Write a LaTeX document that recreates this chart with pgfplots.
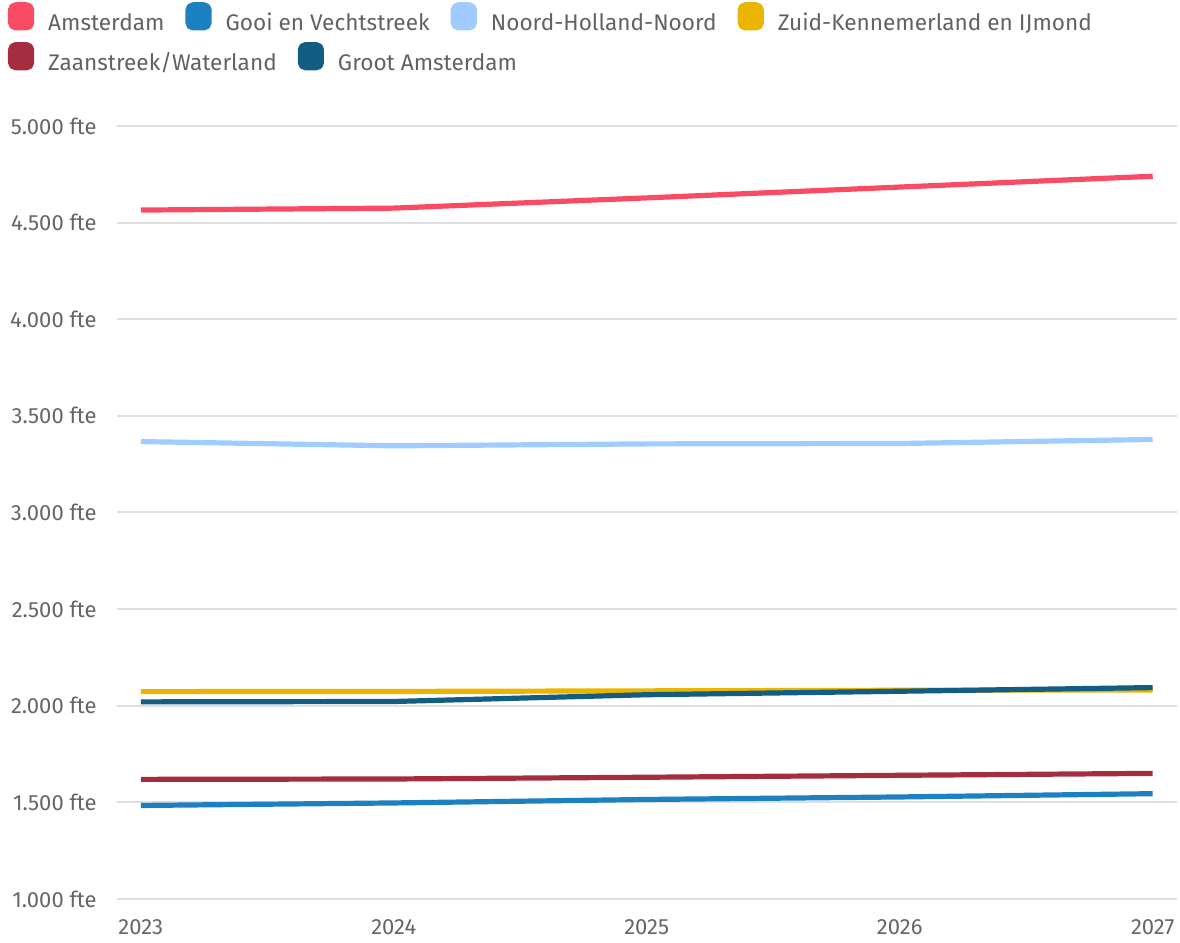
\documentclass[border=0pt]{standalone}
\usepackage{fontspec}
\IfFontExistsTF{FiraSans-Light.otf}{\setmainfont{FiraSans-Light.otf}}{\setmainfont{Fira Sans}}
\usepackage{pgfplots}
\pgfplotsset{compat=1.18}
\definecolor{cAms}{HTML}{FA4B64}
\definecolor{cGooi}{HTML}{1D80C0}
\definecolor{cNHN}{HTML}{9FCDFF}
\definecolor{cZK}{HTML}{EBB400}
\definecolor{cZaan}{HTML}{A52D40}
\definecolor{cGroot}{HTML}{135C82}
\definecolor{gridc}{HTML}{E0E0E0}
\definecolor{tickc}{HTML}{666666}
\definecolor{legtext}{HTML}{626262}
\pgfplotsset{
  base/.style={width=530bp,height=386.5bp,scale only axis,
    xmin=2022.906,xmax=2027.096,ymin=1000,ymax=5000,clip=false,
    every axis plot/.append style={line width=2.6bp,line cap=butt,line join=round,no markers}},
  leg/.style={legend columns=-1,
    legend style={draw=none,fill=none,inner sep=0pt,outer sep=0pt,column sep=0pt,row sep=0pt,
      font=\fontsize{11.3bp}{13bp}\selectfont,text=legtext,nodes={inner sep=0pt},
      /tikz/every even column/.append style={column sep=10.5bp}},
    legend image code/.code={\fill[##1,rounded corners=2.5bp] (0bp,-2.2bp) rectangle (10.5bp,9.3bp); \path (17.5bp,0bp);}},
}
\begin{document}
\begin{tikzpicture}
\useasboundingbox (-58.5bp,-22bp) rectangle (531.5bp,449.5bp);
\begin{axis}[base,leg,
  axis line style={draw=none},major tick length=0pt,
  ymajorgrids,grid style={color=gridc,line width=1bp},
  ytick={1000,1500,2000,2500,3000,3500,4000,4500,5000},
  yticklabels={1.000 fte,1.500 fte,2.000 fte,2.500 fte,3.000 fte,3.500 fte,4.000 fte,4.500 fte,5.000 fte},
  xtick={2023,2024,2025,2026,2027},
  xticklabels={2023,2024,2025,2026,2027},
  tick label style={font=\fontsize{11bp}{13bp}\selectfont,text=tickc,inner sep=0pt},
  yticklabel shift=10bp,xticklabel shift=10bp,
  legend style={at={([xshift=-54.5bp,yshift=54bp]axis description cs:0,1)},anchor=west}]
\addplot[color=cAms] coordinates {(2023,4565) (2024,4575) (2025,4628) (2026,4684) (2027,4740)};
\addlegendentry{Amsterdam}
\addplot[color=cGooi] coordinates {(2023,1484) (2024,1497) (2025,1515) (2026,1528) (2027,1545)};
\addlegendentry{Gooi en Vechtstreek}
\addplot[color=cNHN] coordinates {(2023,3367) (2024,3345) (2025,3355) (2026,3357) (2027,3378)};
\addlegendentry{Noord-Holland-Noord}
\addplot[color=cZK] coordinates {(2023,2073) (2024,2074) (2025,2077) (2026,2080) (2027,2082)};
\addlegendentry{Zuid-Kennemerland en IJmond}
\end{axis}
\begin{axis}[base,leg,hide axis,
  legend style={at={([xshift=-54.5bp,yshift=34bp]axis description cs:0,1)},anchor=west}]
\addplot[color=cZaan] coordinates {(2023,1619) (2024,1621) (2025,1630) (2026,1640) (2027,1650)};
\addlegendentry{Zaanstreek/Waterland}
\addplot[color=cGroot] coordinates {(2023,2020) (2024,2022) (2025,2057) (2026,2075) (2027,2094)};
\addlegendentry{Groot Amsterdam}
\end{axis}
\end{tikzpicture}
\end{document}
